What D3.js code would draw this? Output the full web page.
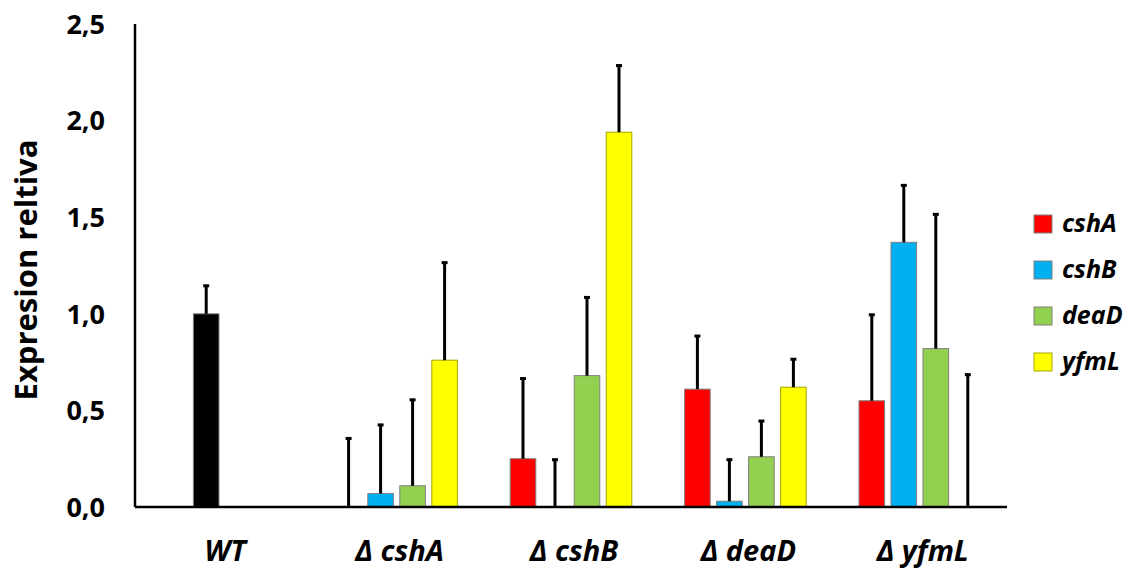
<!DOCTYPE html>
<html lang="es">
<head>
  <meta charset="UTF-8">
  <title>Expresion reltiva</title>
  <style>
    body { margin: 0; background: #fff; }
    svg { display: block; }
    .tick-label { font-family: "Open Sans", Lato, sans-serif; font-weight: bold; font-size: 27px; }
    .axis-title { font-family: "Open Sans", Lato, sans-serif; font-weight: bold; font-size: 31px; }
    .cat-label { font-family: "Open Sans", Lato, sans-serif; font-weight: bold; font-style: italic; font-size: 29px; }
    .legend text { font-family: "Open Sans", Lato, sans-serif; font-weight: bold; font-style: italic; font-size: 25px; }
  </style>
</head>
<body>
  <svg id="chart" width="1133" height="571"></svg>
  <script src="https://d3js.org/d3.v7.min.js"></script>
  <script>
    const categories = ['WT', 'Δ cshA', 'Δ cshB', 'Δ deaD', 'Δ yfmL']
    const seriesNames = ['cshA', 'cshB', 'deaD', 'yfmL']
    const seriesColors = ['#ff0000', '#00b0f0', '#92d050', '#ffff00']
    // WT only has one (black) bar, kept in the cshB slot
    const cshAValues = [null, 0, 0.25, 0.61, 0.55]
    const cshBValues = [1.0, 0.07, 0, 0.03, 1.37]
    const deaDValues = [null, 0.11, 0.68, 0.26, 0.82]
    const yfmLValues = [null, 0.76, 1.94, 0.62, 0]
    const cshAErrors = [null, 0.36, 0.42, 0.28, 0.45]
    const cshBErrors = [0.15, 0.36, 0.25, 0.22, 0.30]
    const deaDErrors = [null, 0.45, 0.41, 0.19, 0.70]
    const yfmLErrors = [null, 0.51, 0.35, 0.15, 0.69]
    const yTicks = [0, 0.5, 1, 1.5, 2, 2.5]

    const values = [cshAValues, cshBValues, deaDValues, yfmLValues]
    const errors = [cshAErrors, cshBErrors, deaDErrors, yfmLErrors]

    const svg = d3.select('#chart')
    const margin = { left: 135, right: 126, top: 24, bottom: 64 }
    const width = 1133
    const height = 571

    const x0 = d3.scaleBand()
      .domain(categories)
      .range([margin.left, width - margin.right])

    const x1 = d3.scaleBand()
      .domain(seriesNames)
      .range([0, 128])
      .paddingInner(0.2)
      .paddingOuter(0.1)

    const y = d3.scaleLinear()
      .domain([0, 2.5])
      .range([height - margin.bottom, margin.top])

    const fmt = d => d3.format('.1f')(d).replace('.', ',')

    const bars = []
    seriesNames.forEach((s, si) => {
      categories.forEach((c, ci) => {
        const v = values[si][ci]
        if (v === null) return
        bars.push({
          series: s,
          cat: c,
          value: v,
          err: errors[si][ci],
          color: c === 'WT' ? '#000000' : seriesColors[si]
        })
      })
    })

    const barX = d => x0(d.cat) + (x0.bandwidth() - 128) / 2 + x1(d.series)

    // bars
    svg.append('g')
      .selectAll('rect')
      .data(bars.filter(d => d.value > 0))
      .enter()
      .append('rect')
      .attr('x', barX)
      .attr('y', d => y(d.value))
      .attr('width', x1.bandwidth())
      .attr('height', d => y(0) - y(d.value))
      .attr('fill', d => d.color)
      .attr('stroke', d => d.color === '#ffff00' ? '#a6a600' : '#808080')
      .attr('stroke-width', 1)

    // error bars (upper only)
    const eb = svg.append('g')
      .selectAll('g')
      .data(bars)
      .enter()
      .append('g')
    eb.append('line')
      .attr('x1', d => barX(d) + x1.bandwidth() / 2)
      .attr('x2', d => barX(d) + x1.bandwidth() / 2)
      .attr('y1', d => y(d.value))
      .attr('y2', d => y(d.value + d.err))
      .attr('stroke', '#000')
      .attr('stroke-width', 3)
    eb.append('line')
      .attr('x1', d => barX(d) + x1.bandwidth() / 2 - 3)
      .attr('x2', d => barX(d) + x1.bandwidth() / 2 + 3)
      .attr('y1', d => y(d.value + d.err) + 1)
      .attr('y2', d => y(d.value + d.err) + 1)
      .attr('stroke', '#000')
      .attr('stroke-width', 3)

    // axes lines
    svg.append('line')
      .attr('x1', margin.left).attr('x2', margin.left)
      .attr('y1', y(2.5)).attr('y2', y(0))
      .attr('stroke', '#000').attr('stroke-width', 2.5)
    svg.append('line')
      .attr('x1', margin.left).attr('x2', width - margin.right)
      .attr('y1', y(0)).attr('y2', y(0))
      .attr('stroke', '#000').attr('stroke-width', 2.5)

    // y tick labels
    svg.append('g')
      .selectAll('text')
      .data(yTicks)
      .enter()
      .append('text')
      .attr('class', 'tick-label')
      .attr('x', 105)
      .attr('y', d => y(d))
      .attr('dy', '0.36em')
      .attr('text-anchor', 'end')
      .text(fmt)

    // y title
    svg.append('text')
      .attr('class', 'axis-title')
      .attr('transform', 'translate(37, 270) rotate(-90)')
      .attr('text-anchor', 'middle')
      .text('Expresion reltiva')

    // category labels
    svg.append('g')
      .selectAll('text')
      .data(categories)
      .enter()
      .append('text')
      .attr('class', 'cat-label')
      .attr('x', d => x0(d) + x0.bandwidth() / 2 + 3)
      .attr('y', 561)
      .attr('text-anchor', 'middle')
      .text(d => d)

    // legend
    const legend = svg.append('g')
      .attr('class', 'legend')
      .attr('transform', 'translate(1034, 224)')
    const item = legend.selectAll('g')
      .data(seriesNames)
      .enter()
      .append('g')
      .attr('transform', (d, i) => `translate(0, ${i * 46})`)
    item.append('rect')
      .attr('x', 0).attr('y', -9)
      .attr('width', 18).attr('height', 18)
      .attr('fill', (d, i) => seriesColors[i])
      .attr('stroke', (d, i) => i === 3 ? '#a6a600' : '#808080')
      .attr('stroke-width', 1)
    item.append('text')
      .attr('x', 28)
      .attr('y', 8)
      .text(d => d)
  </script>
</body>
</html>
